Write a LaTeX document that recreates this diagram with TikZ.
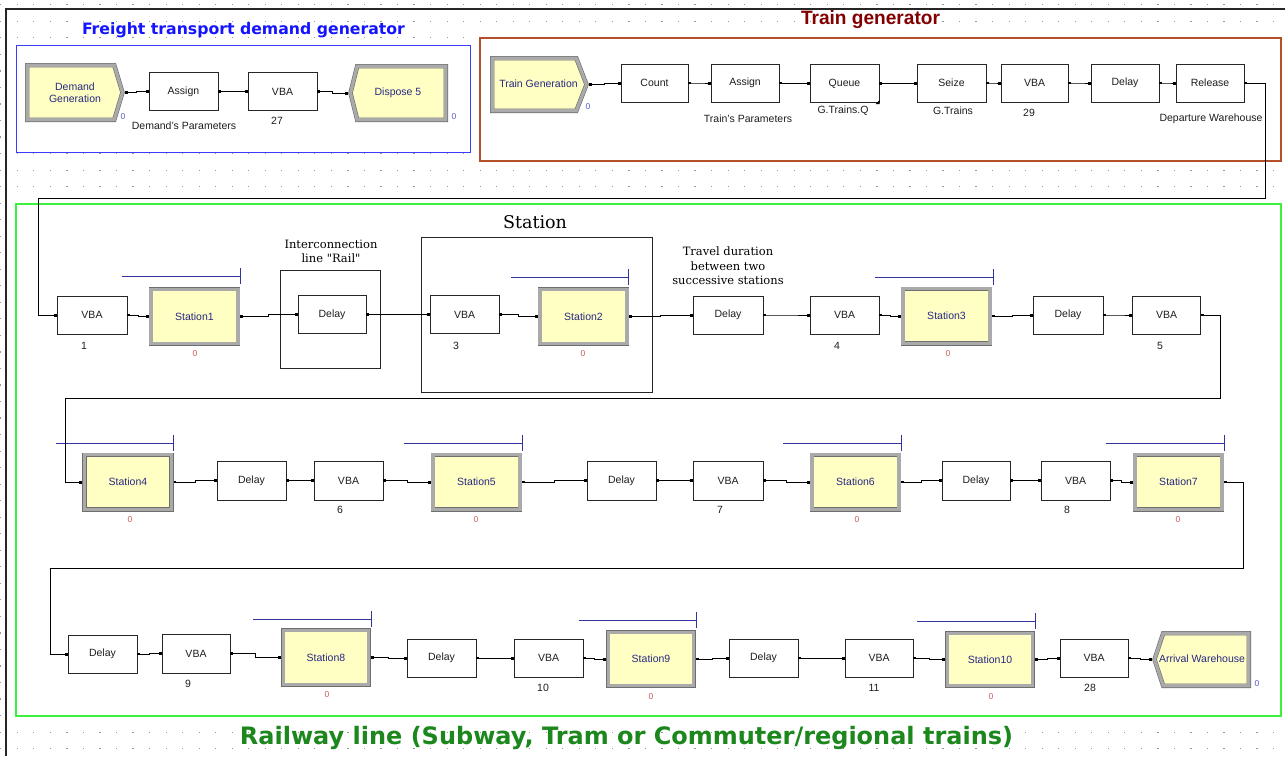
\documentclass[tikz,border=0pt]{standalone}
\usepackage{fontspec}
\setmainfont{Liberation Sans}
\newfontfamily\titlefont{DejaVu Sans}
\newfontfamily\serifl{DejaVu Serif}
\usetikzlibrary{calc}
\definecolor{yell}{RGB}{255,255,196}
\definecolor{navy}{RGB}{40,40,130}
\definecolor{txt}{RGB}{30,30,30}
\definecolor{modedge}{RGB}{110,110,110}
\definecolor{modband}{RGB}{170,170,170}
\definecolor{cntred}{RGB}{200,90,90}
\definecolor{cntpur}{RGB}{90,90,200}
\definecolor{blline}{RGB}{50,50,160}
\definecolor{frblue}{RGB}{60,60,255}
\definecolor{frbrown}{RGB}{180,80,40}
\definecolor{frgreen}{RGB}{60,240,60}
\definecolor{tblue}{RGB}{20,20,255}
\definecolor{tred}{RGB}{130,0,0}
\definecolor{tgreen}{RGB}{28,135,28}
\definecolor{dotc}{RGB}{150,150,150}
\newcommand\cn[2]{%
  \draw[cline] (#1.east) -| ($(#1.east)!.5!(#2.west)$) |- (#2.west);
  \fill ([yshift=-1.3pt]#1.east) rectangle ++(2.6pt,2.6pt);
  \fill ([xshift=-3pt,yshift=-1.5pt]#2.west) rectangle ++(3pt,3pt);}
\newcommand\bline[3]{\draw[bl] (#1,#3) -- (#2,#3); \draw[bl] (#2,{#3-8}) -- (#2,{#3+8});}
\begin{document}
\begin{tikzpicture}[x=1pt,y=-1pt,
  pb/.style={draw=black!85, line width=0.8pt, fill=white, inner sep=0pt,
    minimum width=69pt, minimum height=38pt, text=txt,
    font=\fontsize{10.5}{12}\selectfont},
  stn/.style={draw=modedge, double=modband, double distance=3.2pt, line width=0.6pt,
    fill=yell, inner sep=0pt, outer sep=2.2pt, minimum width=87pt, minimum height=54.6pt,
    text=navy, font=\fontsize{10.5}{12}\selectfont},
  modb/.style={draw=modedge, double=modband, double distance=3.2pt, line width=0.6pt,
    fill=yell, line join=miter},
  inv/.style={inner sep=0pt, text=navy, align=center, font=\fontsize{10.5}{12}\selectfont},
  lab/.style={inner sep=0pt, text=txt, font=\fontsize{10.5}{12}\selectfont},
  cnt/.style={inner sep=0pt, text=cntred, font=\fontsize{8.5}{10}\selectfont},
  cntp/.style={inner sep=0pt, text=cntpur, font=\fontsize{8.5}{10}\selectfont},
  cline/.style={draw=black, line width=0.9pt},
  bl/.style={draw=blline, line width=0.9pt},
  ser/.style={inner sep=0pt, align=center, text=black, font=\serifl\fontsize{11.5}{14.5}\selectfont}]
\useasboundingbox (0,0) rectangle (1285,756);
\fill[white] (0,0) rectangle (1285,756);
% dot grid
\foreach \i in {0,...,77}{\foreach \j in {0,...,45}{
  \fill[dotc] ({0.2+16.53*\i},{5.4+16.53*\j}) rectangle ++(1.2pt,1.2pt);}}
% outer frame
\draw[line width=2.6pt, black!85] (6,756) -- (6,9) -- (1285,9);
% group frames
\draw[frblue, line width=1pt, fill=white] (16,45) rectangle (470,152);
\draw[frbrown, line width=1.2pt, fill=white] (480,38) rectangle (1281,161);
\draw[frgreen, line width=1.3pt, fill=white] (16,204) rectangle (1281,716);
\draw[black!85, line width=0.9pt] (421,237) rectangle (652,392);
\draw[black!85, line width=0.9pt] (280,270) rectangle (380,368);
% titles
\node[inner sep=0pt, text=tblue] at (243.5,30) {\resizebox{323pt}{!}{\titlefont\bfseries Freight transport demand generator}};
\node[inner sep=0pt, text=tred] at (870.5,20) {\resizebox{139pt}{14pt}{\bfseries Train generator}};
\node[inner sep=0pt, text=tgreen] at (626.5,738) {\resizebox{773pt}{!}{\titlefont\bfseries Railway line (Subway, Tram or Commuter/regional trains)}};
\node[ser, font=\serifl\fontsize{17.5}{20}\selectfont] at (535,222) {Station};
\node[ser] at (331,251.5) {Interconnection\\line "Rail"};
\node[ser] at (728,266) {Travel duration\\between two\\successive stations};
% ---------- Freight transport demand generator ----------
\draw[modb] (27.2,65.2) -- (114.3,65.2) -- (122.5,92.5) -- (114.3,119.8) -- (27.2,119.8) -- cycle;
\node[inv, minimum width=100pt, minimum height=59pt] (dg) at (75,92.5) {Demand\\Generation};
\node[pb] (as1) at (183.5,91.5) {Assign};
\node[pb] (vb27) at (282.5,91.5) {VBA};
\draw[modb] (445.8,66.2) -- (357.2,66.2) -- (350.5,93) -- (357.2,119.8) -- (445.8,119.8) -- cycle;
\node[inv, minimum width=100pt, minimum height=58pt] (disp) at (398,93) {Dispose 5};
\node[cntp] at (123,117) {0};
\node[cntp] at (454,117) {0};
\node[lab] at (184,126) {Demand's Parameters};
\node[lab] at (277,121) {27};
\cn{dg}{as1}\cn{as1}{vb27}\cn{vb27}{disp}
% ---------- Train generator ----------
\draw[modb] (492.2,58.2) -- (576.3,58.2) -- (586.5,84.5) -- (576.3,110.8) -- (492.2,110.8) -- cycle;
\node[inv, minimum width=99pt, minimum height=57pt] (tg) at (539.5,84.5) {};
\node[inv] at (538.5,84) {Train Generation};
\node[cntp] at (588,107) {0};
\node[pb, minimum width=67pt] (count) at (654.5,83) {Count};
\node[pb, minimum width=68pt] (as2) at (745,83) {Assign};
\node[pb] (queue) at (844.5,83.5) {Queue};
\fill (879.5,100) -- (879.5,104) -- (875.5,104) -- cycle;
\node[pb] (seize) at (951.5,83) {Seize};
\node[pb, minimum width=67pt] (vb29) at (1034.5,83) {VBA};
\node[pb, minimum width=68pt] (dl0) at (1125,83) {Delay};
\node[pb, minimum width=68pt] (rel) at (1210,83) {Release};
\node[lab] at (748,119) {Train's Parameters};
\node[lab] at (843,111) {G.Trains.Q};
\node[lab] at (953,111) {G.Trains};
\node[lab] at (1029,113) {29};
\node[lab] at (1211,119) {Departure Warehouse};
\cn{tg}{count}\cn{count}{as2}\cn{as2}{queue}\cn{queue}{seize}\cn{seize}{vb29}\cn{vb29}{dl0}\cn{dl0}{rel}
% ---------- Row 1 ----------
\node[pb, minimum width=70pt] (vb1) at (92,315) {VBA};
\node[stn] (st1) at (194.5,316.5) {Station1};
\node[pb, minimum width=68pt] (dl1) at (332,314.5) {Delay};
\node[pb] (vb3) at (464.5,314.5) {VBA};
\node[stn] (st2) at (583.5,316.5) {Station2};
\node[pb, minimum width=70pt] (dl2) at (728,315) {Delay};
\node[pb] (vb4) at (844.5,315) {VBA};
\node[stn] (st3) at (946.5,316) {Station3};
\node[pb, minimum width=70pt] (dl3) at (1068,315) {Delay};
\node[pb, minimum width=68pt] (vb5) at (1166.5,315) {VBA};
\node[lab] at (84,346) {1};
\node[lab] at (456,346) {3};
\node[lab] at (837,346) {4};
\node[lab] at (1160,346) {5};
\node[cnt] at (195,354) {0};
\node[cnt] at (583,354) {0};
\node[cnt] at (948,354) {0};
\bline{122}{240}{276}\bline{511}{628}{277}\bline{875}{993}{277}
\cn{vb1}{st1}\cn{st1}{dl1}\cn{dl1}{vb3}\cn{vb3}{st2}\cn{st2}{dl2}\cn{dl2}{vb4}\cn{vb4}{st3}\cn{st3}{dl3}\cn{dl3}{vb5}
% ---------- Row 2 ----------
\node[stn] (st4) at (128,482) {Station4};
\node[pb, minimum height=39pt] (dl4) at (251.5,480.5) {Delay};
\node[pb, minimum height=39pt] (vb6) at (348.5,480.5) {VBA};
\node[stn] (st5) at (476.5,482) {Station5};
\node[pb, minimum height=39pt] (dl5) at (621.5,480.5) {Delay};
\node[pb, minimum width=70pt, minimum height=39pt] (vb7) at (728,480.5) {VBA};
\node[stn] (st6) at (855.5,482) {Station6};
\node[pb, minimum width=68pt, minimum height=39pt] (dl6) at (976,480.5) {Delay};
\node[pb, minimum height=39pt] (vb8) at (1075.5,480.5) {VBA};
\node[stn] (st7) at (1178.5,482) {Station7};
\node[lab] at (340,510) {6};
\node[lab] at (720,510) {7};
\node[lab] at (1067,510) {8};
\node[cnt] at (130,520) {0};
\node[cnt] at (476,520) {0};
\node[cnt] at (857,520) {0};
\node[cnt] at (1178,520) {0};
\bline{56}{173}{443}\bline{404}{522}{443}\bline{783}{901}{443}\bline{1106}{1224}{443}
\cn{st4}{dl4}\cn{dl4}{vb6}\cn{vb6}{st5}\cn{st5}{dl5}\cn{dl5}{vb7}\cn{vb7}{st6}\cn{st6}{dl6}\cn{dl6}{vb8}\cn{vb8}{st7}
% ---------- Row 3 ----------
\node[pb] (dl7) at (102.5,654) {Delay};
\node[pb, minimum width=68pt, minimum height=39pt] (vb9) at (196,653.5) {VBA};
\node[stn, minimum width=85.6pt] (st8) at (326,657.5) {Station8};
\node[pb] (dl8) at (441.5,658) {Delay};
\node[pb] (vb10) at (548.5,658) {VBA};
\node[stn, minimum width=85.6pt, minimum height=53.6pt] (st9) at (651,659) {Station9};
\node[pb] (dl9) at (763.5,658) {Delay};
\node[pb, minimum width=68pt] (vb11) at (879,658) {VBA};
\node[stn, minimum width=85.6pt, minimum height=52.6pt] (st10) at (990,659.5) {Station10};
\node[pb, minimum width=68pt] (vb28) at (1094,658) {VBA};
\draw[modb] (1248.8,633.2) -- (1163.2,633.2) -- (1154.5,659.5) -- (1163.2,685.8) -- (1248.8,685.8) -- cycle;
\node[inv, minimum width=99pt, minimum height=57pt] (arr) at (1201.5,659.5) {};
\node[inv] at (1202,659) {Arrival Warehouse};
\node[lab] at (188,684) {9};
\node[lab] at (543,688) {10};
\node[lab] at (874,688) {11};
\node[lab] at (1090,688) {28};
\node[cnt] at (327,695) {0};
\node[cnt] at (651,697) {0};
\node[cnt] at (991,697) {0};
\node[cntp] at (1257,684) {0};
\bline{253}{371}{619}\bline{579}{696}{620}\bline{917}{1035}{621}
\cn{dl7}{vb9}\cn{vb9}{st8}\cn{st8}{dl8}\cn{dl8}{vb10}\cn{vb10}{st9}\cn{st9}{dl9}\cn{dl9}{vb11}\cn{vb11}{st10}\cn{st10}{vb28}\cn{vb28}{arr}
% ---------- long return connectors ----------
\coordinate (ra) at (1265,198);
\coordinate (rb) at (38,198);
\draw[cline] (rel.east) -| (ra) -- (rb) |- (vb1.west);
\fill ([yshift=-1.3pt]rel.east) rectangle ++(2.6pt,2.6pt);
\fill ([xshift=-3pt,yshift=-1.5pt]vb1.west) rectangle ++(3pt,3pt);
\coordinate (r1a) at (1220,398);
\coordinate (r1b) at (65,398);
\draw[cline] (vb5.east) -| (r1a) -- (r1b) |- (st4.west);
\fill ([yshift=-1.3pt]vb5.east) rectangle ++(2.6pt,2.6pt);
\fill ([xshift=-3pt,yshift=-1.5pt]st4.west) rectangle ++(3pt,3pt);
\coordinate (r2a) at (1243,568);
\coordinate (r2b) at (50,568);
\draw[cline] (st7.east) -| (r2a) -- (r2b) |- (dl7.west);
\fill ([yshift=-1.3pt]st7.east) rectangle ++(2.6pt,2.6pt);
\fill ([xshift=-3pt,yshift=-1.5pt]dl7.west) rectangle ++(3pt,3pt);
\end{tikzpicture}
\end{document}
